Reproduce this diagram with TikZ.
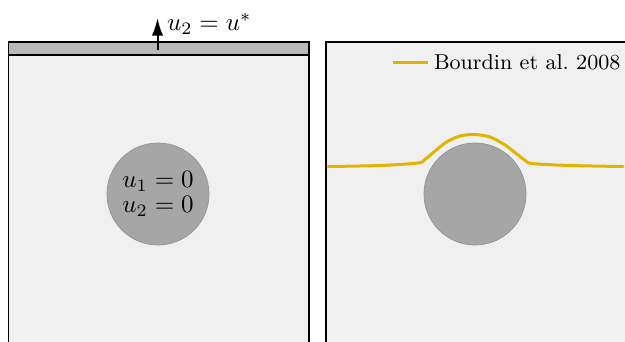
\documentclass[tikz,border=0pt]{standalone}
\usetikzlibrary{arrows.meta}
\definecolor{panelcolor}{RGB}{240,240,240}
\definecolor{stripcolor}{RGB}{185,185,185}
\definecolor{inclcolor}{RGB}{166,166,166}
\definecolor{incledge}{RGB}{150,150,150}
\definecolor{crackcolor}{RGB}{224,180,0}
\tikzset{
  panelbox/.style={fill=panelcolor, draw=black, line width=0.7pt},
  inclusion/.style={circle, fill=inclcolor, draw=incledge, line width=0.3pt,
    minimum size=40.8pt, inner sep=0pt, align=center},
  crack/.style={draw=crackcolor, line width=1.2pt, line cap=round},
}

\begin{document}
\begin{tikzpicture}[x=0.4pt, y=-0.4pt]
    \useasboundingbox (0,0) rectangle (625,341);
    \clip (0,0) rectangle (625,341);
    % Left panel: loading
    \draw[panelbox] (8.5,42) rectangle (309,360);
    \filldraw[fill=stripcolor, draw=black, line width=0.7pt] (8.5,42) rectangle (309,55);
    \draw[black, line width=0.7pt] (8.5,42) rectangle (309,360);
    \node[inclusion] (inclL) at (158,194) {$u_1 = 0$\\[-2pt]$u_2 = 0$};
    % Applied displacement
    \coordinate (load) at (157.5,50);
    \coordinate (loadtip) at (157.5,18);
    \draw[-{Latex[length=7pt,width=4.5pt]}, line width=0.8pt] (load) -- (loadtip);
    \node[anchor=west, inner sep=1pt] (loadlabel) at (164,24) {$u_2 = u^*$};
    % Right panel: crack path
    \draw[panelbox] (326,42) rectangle (640,360);
    \node[inclusion] (inclR) at (475,194) {};
    \draw[crack] plot[smooth, tension=0.45] coordinates {
      (328,166.5) (380,165.5) (418,163) (425,159.5) (445,143) (460,136)
      (475,134.5) (490,137) (505,145) (524,159.5) (532,163.5) (570,165.5) (623,166.5)};
    % Legend
    \coordinate (legA) at (393,62.5);
    \coordinate (legB) at (428,62.5);
    \draw[crack, line cap=butt] (legA) -- (legB);
    \node[anchor=west, inner sep=1pt, font=\fontsize{8.6}{10}\selectfont] (legtext) at (431,62) {Bourdin et al.\ 2008};
  \end{tikzpicture}
\end{document}
